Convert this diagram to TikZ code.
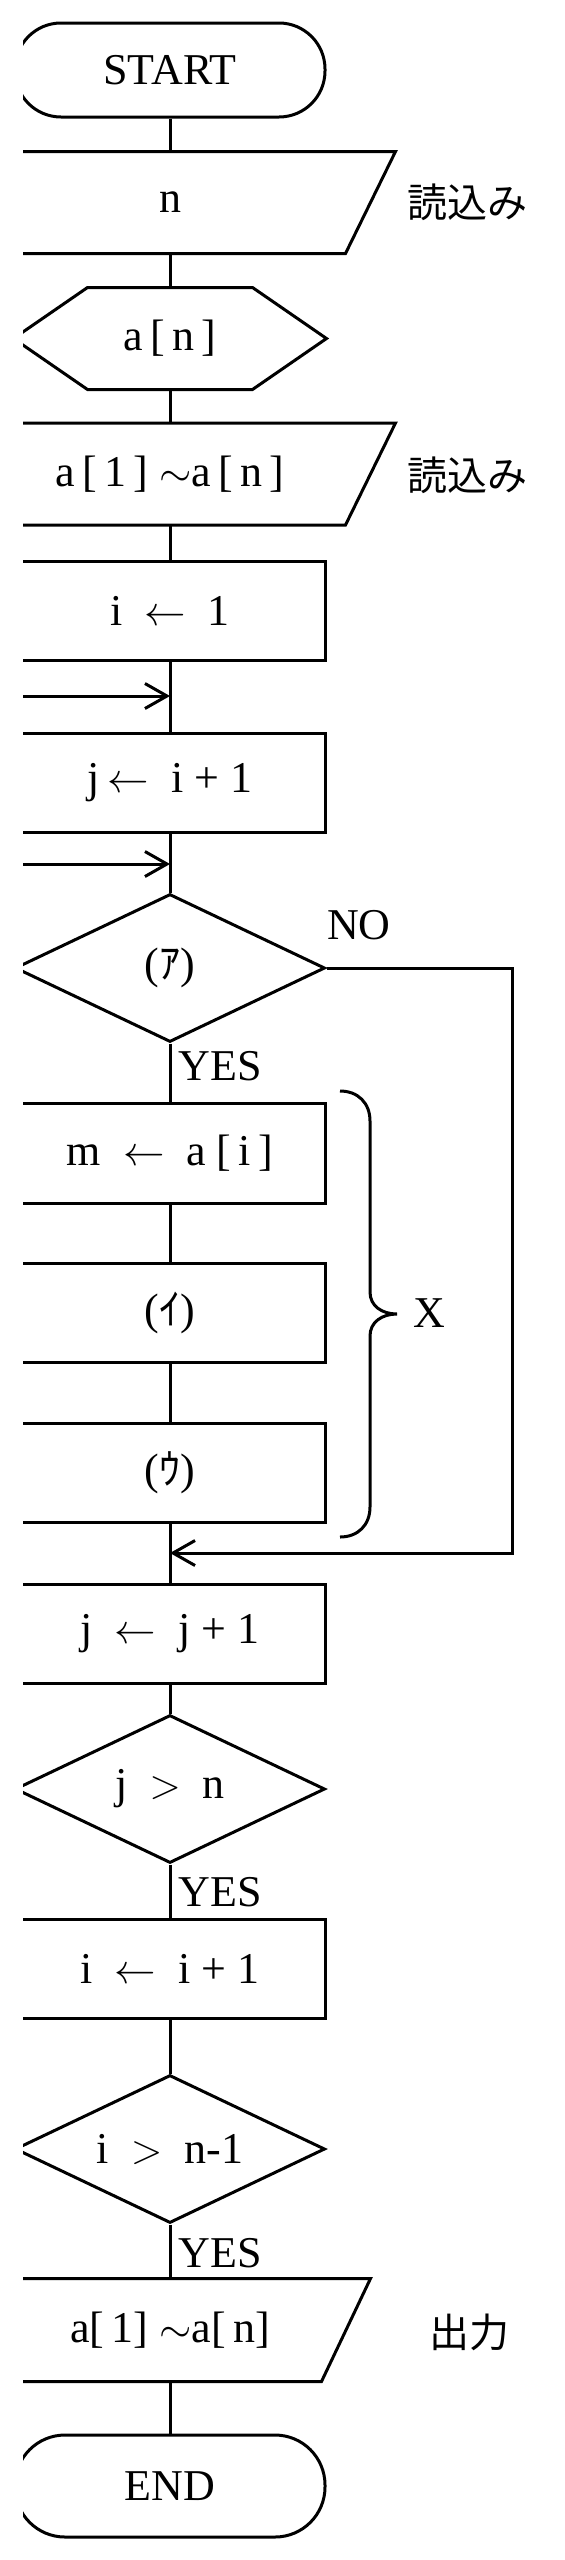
\documentclass[tikz,border=0pt]{standalone}
\usepackage{fontspec}
\setmainfont{Liberation Serif}
\newfontfamily\jpfont{Noto Sans CJK JP}
\usetikzlibrary{arrows.meta,shapes.geometric}

\newcommand{\kana}[1]{({\jpfont\fontsize{21pt}{21pt}\selectfont #1})}

\begin{document}
\begin{tikzpicture}[x=0.5pt, y=-0.5pt, line width=1.5pt,
  font=\fontsize{22pt}{26pt}\selectfont,
  >={Straight Barb[length=11pt,width=12.5pt]},
  term/.style={draw, rectangle, rounded corners=23pt, minimum width=155pt, minimum height=47pt, inner sep=0pt},
  proc/.style={draw, rectangle, minimum width=155pt, minimum height=49.5pt, inner sep=0pt},
  cond/.style={draw, diamond, aspect=2.1, minimum width=155pt, minimum height=74pt, inner sep=0pt},
  iobox/.style={rectangle, minimum height=49.5pt, inner sep=0pt},
  sidelabel/.style={font=\jpfont\fontsize{20pt}{24pt}\selectfont, inner sep=0pt}]
  \useasboundingbox (0,0) rectangle (565,2560);
  \begin{scope}
  \clip (23,0) rectangle (565,2560);
  % start, reading and declaration
  \node[term] (start) at (170,70) {START};
  \node[iobox, minimum width=224pt] (readn) at (170,202.5) {n};
  \draw ([xshift=25pt]readn.north west) -- (readn.north east) -- ([xshift=-25pt]readn.south east) -- (readn.south west) -- cycle;
  \node[sidelabel] (lblreadn) at (467,202) {読込み};
  \node[iobox, minimum width=155pt] (decl) at (170,338.5) {a\,[\,n\,]};
  \draw (decl.west) -- ([xshift=37pt]decl.north west) -- ([xshift=-37pt]decl.north east) -- (decl.east)
    -- ([xshift=-37pt]decl.south east) -- ([xshift=37pt]decl.south west) -- cycle;
  \node[iobox, minimum width=224pt] (reada) at (170,474) {a\,[\,1\,]\ $\sim$a\,[\,n\,]};
  \draw ([xshift=25pt]reada.north west) -- (reada.north east) -- ([xshift=-25pt]reada.south east) -- (reada.south west) -- cycle;
  \node[sidelabel] (lblreada) at (467,475) {読込み};
  % outer and inner loop heads
  \node[proc] (initi) at (170,610.5) {i\ \ $\leftarrow$\ \ 1};
  \node[proc] (initj) at (170,782.5) {j\,$\leftarrow$\ \ i + 1};
  \node[cond] (cmp) at (170,968) {\kana{ｱ}};
  \node (lblno) at (359,925) {NO};
  \node (lblyes1) at (220,1066) {YES};
  % exchange block X
  \node[proc, minimum height=50pt] (setm) at (170,1153) {m\ \ $\leftarrow$\ \ a\ [\,i\,]};
  \node[proc] (boxi) at (170,1312.5) {\kana{ｲ}};
  \node[proc] (boxu) at (170,1472.5) {\kana{ｳ}};
  \draw (340,1091) .. controls (358,1091) and (370,1103) .. (370,1121) -- (370,1292)
    .. controls (370,1306) and (382,1314) .. (397,1314) .. controls (382,1314) and (370,1322) .. (370,1336)
    -- (370,1507) .. controls (370,1525) and (358,1537) .. (340,1537);
  \node (lblx) at (429,1313) {X};
  % loop tails
  \node[proc] (incj) at (170,1633.5) {j\ \ $\leftarrow$\ \ j + 1};
  \node[cond] (testj) at (170,1789) {j\ \ $>$\ \ n};
  \node (lblyes2) at (220,1892) {YES};
  \node[proc] (inci) at (170,1968.5) {i\ \ $\leftarrow$\ \ i + 1};
  \node[cond] (testi) at (170,2149) {i\ \ $>$\ \ n-1};
  \node (lblyes3) at (220,2253) {YES};
  % output and end
  \node[iobox, minimum width=199pt, minimum height=50pt] (out) at (170,2330) {a[\,1] $\sim$a[\,n]};
  \draw ([xshift=24.5pt]out.north west) -- (out.north east) -- ([xshift=-24.5pt]out.south east) -- (out.south west) -- cycle;
  \node[sidelabel] (lblout) at (469,2332) {出力};
  \node[term, minimum height=51pt, rounded corners=25pt] (stop) at (170,2486) {END};
  % flow lines
  \draw (start.south) -- (readn.north);
  \draw (readn.south) -- (decl.north);
  \draw (decl.south) -- (reada.north);
  \draw (reada.south) -- (initi.north);
  \draw (initi.south) -- (initj.north);
  \draw (initj.south) -- (cmp.north);
  \draw (cmp.south) -- (setm.north);
  \draw (setm.south) -- (boxi.north);
  \draw (boxi.south) -- (boxu.north);
  \draw (boxu.south) -- (incj.north);
  \draw (incj.south) -- (testj.north);
  \draw (testj.south) -- (inci.north);
  \draw (inci.south) -- (testi.north);
  \draw (testi.south) -- (out.north);
  \draw (out.south) -- (stop.north);
  % loop returns
  \coordinate (loopi) at (0,696);
  \coordinate (loopj) at (0,864);
  \coordinate (noturn) at (512,1553);
  \draw[->] (loopi) -- (loopi -| initi.south);
  \draw[->] (loopj) -- (loopj -| initj.south);
  \draw[->] (cmp.east) -| (noturn) -- (noturn -| boxu.south);
  \end{scope}
\end{tikzpicture}
\end{document}
